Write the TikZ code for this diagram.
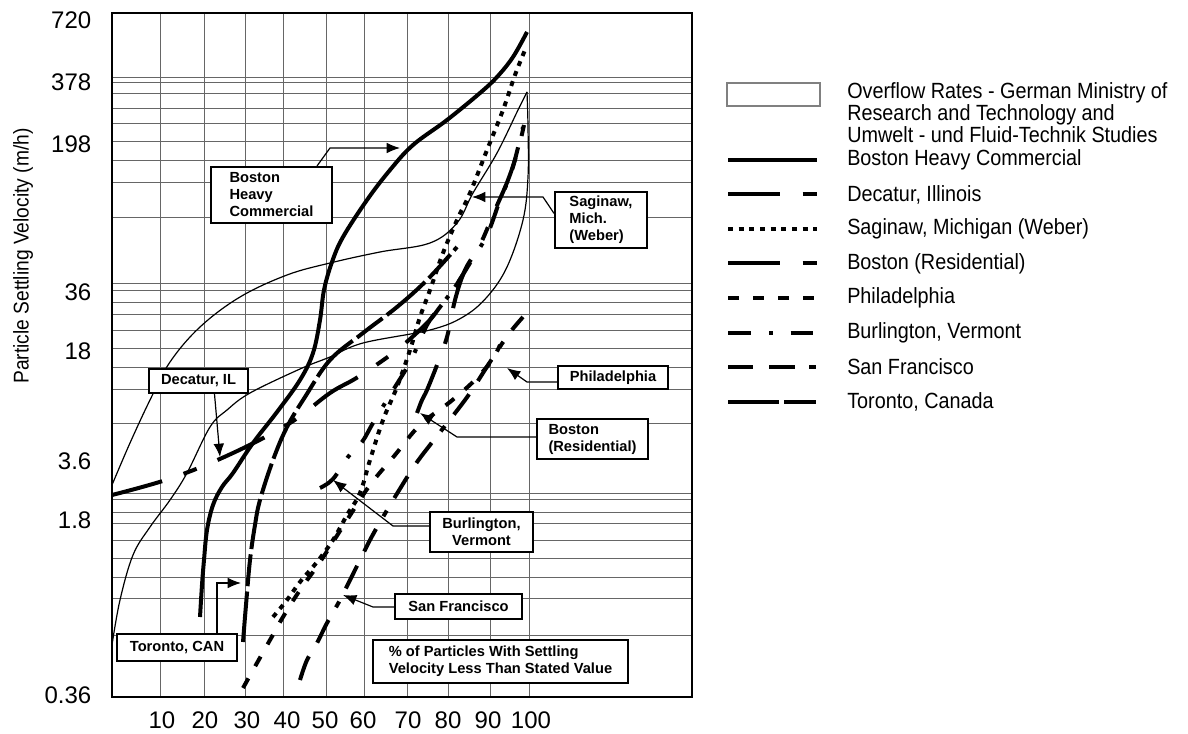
\documentclass[tikz,border=0pt]{standalone}
\usepackage{fontspec}
\setmainfont{Liberation Sans}
\newfontfamily\narrowsans[FakeStretch=0.9]{Liberation Sans}
\usetikzlibrary{arrows.meta}
\tikzset{
  envl/.style={line width=0.9pt},
  thick curve/.style={line width=3pt},
  heavy/.style={thick curve},
  decat/.style={thick curve, dash pattern=on 39pt off 17pt on 10.5pt off 17pt},
  sagin/.style={thick curve, dash pattern=on 3.75pt off 4.25pt},
  bres/.style={thick curve, dash pattern=on 39pt off 17pt on 10.5pt off 17pt},
  phila/.style={thick curve, dash pattern=on 8.25pt off 10.5pt},
  burl/.style={thick curve, dash pattern=on 17pt off 14pt on 3pt off 13pt},
  sanfr/.style={thick curve, dash pattern=on 19pt off 12pt on 19pt off 11pt on 5pt off 11pt},
  toron/.style={thick curve, dash pattern=on 38pt off 4pt on 24pt off 4pt},
  tag/.style={draw, line width=1.5pt, fill=white, inner sep=0pt,
    font=\fontsize{11}{12.75}\selectfont\bfseries},
  lead/.style={line width=0.9pt, -{Latex[length=10pt,width=8pt]}},
  legtext/.style={anchor=west, inner sep=0pt, font=\narrowsans\fontsize{16.5}{16.5}\selectfont},
}
\begin{document}
\begin{tikzpicture}[x=0.75pt,y=-0.75pt]
    \useasboundingbox (0,0) rectangle (1188,734);
    % Grid
    \foreach \gx in {160,204,245,283,326,364,407,448,490,529}
      \draw[black!60, line width=0.7pt] (\gx,13) -- (\gx,697);
    \foreach \gy in {77,82,93,108,123,141,160,182,217,283,290,302,314,330,348,367,389,423,493,499,512,523,540,558,577,598,635}
      \draw[black!60, line width=0.7pt] (112,\gy) -- (692,\gy);
    \draw[line width=2pt] (112,13) rectangle (692,697);

    % Axis numbers
    \foreach \lab/\gx in {10/162,20/205,30/247,40/287,50/325,60/363,70/408,80/448,90/488,100/531}
      \node[font=\fontsize{18}{19}\selectfont] (xt\lab) at (\gx,720) {\lab};
    \foreach \lab/\gy in {720/20,378/82,198/144,36/292,18/351,3.6/461,1.8/520,0.36/695}
      \node[anchor=east, font=\fontsize{18}{19}\selectfont] (yt\lab) at (96,\gy) {\lab};
    \node[rotate=90, font=\narrowsans\fontsize{16}{17}\selectfont] (ylabel) at (23,256) {Particle Settling Velocity (m/h)};

    % Overflow rate envelope
    \draw[envl] plot[smooth, tension=0.6] coordinates {(112,485) (130,443) (150,400) (170,362) (200,327) (240,297) (287,275) (330,263) (380,252) (430,243) (457,223) (473,193) (497,153) (518,110) (527,92)};
    \draw[envl] plot[smooth, tension=0.6] coordinates {(527,92) (528,127) (528,177) (523,220) (507,267) (487,297) (463,317) (430,330) (363,343) (330,357) (300,369) (250,393) (227,410) (210,427) (187,473) (170,500) (150,527) (133,555) (120,600) (112,645)};

    % Settling curves
    \draw[heavy] plot[smooth, tension=0.6] coordinates {(200,617) (202,585) (204,560) (207,530) (213,505) (222,487) (233,473) (253,443) (277,412) (300,380) (313,353) (320,320) (324,290) (332,262) (343,237) (367,200) (390,170) (413,145) (447,120) (480,93) (497,77) (513,57) (527,32)};
    \draw[toron] plot[smooth, tension=0.6] coordinates {(243,642) (246,605) (250,560) (255,525) (260,500) (273,460) (287,427) (305,397) (330,360) (363,333) (397,307) (427,280) (457,247)};
    \draw[decat] plot[smooth, tension=0.6] coordinates {(112,495) (172,478) (233,453) (290,423) (330,393) (358,377) (397,350) (427,323) (440,307) (455,287) (470,263)};
    \draw[sagin] plot[smooth, tension=0.6] coordinates {(273,617) (287,600) (300,582) (317,562) (333,540) (347,515) (360,493) (370,460) (383,420) (397,387) (410,350) (420,317) (430,290) (443,253) (457,220) (470,193) (487,150) (503,110) (515,75) (525,50)};
    \draw[phila] plot[smooth, tension=0.6] coordinates {(243,688) (257,663) (270,640) (283,617) (300,590) (320,562) (347,520) (370,485) (395,455) (420,425) (450,402) (475,380) (492,360) (500,345)};
    \draw[sanfr] plot[smooth, tension=0.6] coordinates {(300,680) (307,660) (317,643) (327,623) (340,600) (355,570) (370,540) (383,517) (398,492) (415,465) (430,445) (452,417) (470,393) (490,362) (508,335) (523,317)};
    \draw[burl] plot[smooth, tension=0.6] coordinates {(320,488) (333,479) (348,457) (362,442) (373,423) (390,395) (410,362) (427,325) (440,307) (455,287) (470,263) (487,235) (500,200) (512,170) (523,127)};
    \draw[bres] plot[smooth, tension=0.6] coordinates {(417,413) (422,400) (427,390) (437,365) (447,337) (455,300) (465,270) (480,245) (495,210) (508,180) (518,150) (524,125)};

    % Labels
    \node[tag, align=left, minimum width=90.75pt, minimum height=42pt] (bhcTag) at (271.5,195) {Boston\\Heavy\\Commercial};
    \node[tag, align=left, minimum width=69pt, minimum height=42pt] (sagTag) at (601,220) {Saginaw,\\Mich.\\(Weber)};
    \node[tag, minimum width=74.25pt, minimum height=18pt] (decTag) at (198.5,381) {Decatur, IL};
    \node[tag, minimum width=82.5pt, minimum height=17.25pt] (phiTag) at (613,377.5) {Philadelphia};
    \node[tag, align=left, minimum width=83.25pt, minimum height=30pt] (bresTag) at (592.5,439) {Boston\\(Residential)};
    \node[tag, align=center, minimum width=77.25pt, minimum height=30pt] (burTag) at (481.5,532) {Burlington,\\Vermont};
    \node[tag, minimum width=95.25pt, minimum height=18.75pt] (sfTag) at (458.5,606.5) {San Francisco};
    \node[tag, minimum width=90pt, minimum height=20.25pt] (torTag) at (177,647.5) {Toronto, CAN};
    \node[tag, align=left, minimum width=191.25pt, minimum height=32.25pt] (noteTag) at (500.5,661.5) {\% of Particles With Settling\\Velocity Less Than Stated Value};

    % Leaders
    \coordinate (bhcBend) at (330,148);
    \coordinate (bhcTip) at (400,148);
    \draw[lead] ([xshift=-12pt]bhcTag.north east) -- (bhcBend) -- (bhcTip);
    \coordinate (sagBend) at (543,197);
    \coordinate (sagTip) at (472,197);
    \draw[lead] ([yshift=5pt]sagTag.west) -- (sagBend) -- (sagTip);
    \coordinate (decTip) at (220,457);
    \draw[lead] ([xshift=12pt]decTag.south) -- (decTip);
    \coordinate (phiBend) at (527,382);
    \coordinate (phiTip) at (507,368);
    \draw[lead] (phiTag.west |- phiBend) -- (phiBend) -- (phiTip);
    \coordinate (bresBend) at (457,437);
    \coordinate (bresTip) at (420,413);
    \draw[lead] (bresTag.west |- bresBend) -- (bresBend) -- (bresTip);
    \coordinate (burBend) at (393,526);
    \coordinate (burTip) at (333,480);
    \draw[lead] (burTag.west |- burBend) -- (burBend) -- (burTip);
    \coordinate (sfBend) at (373,607);
    \coordinate (sfTip) at (343,595);
    \draw[lead] (sfTag.west |- sfBend) -- (sfBend) -- (sfTip);
    \coordinate (torBend) at (217,583);
    \coordinate (torTip) at (241,583);
    \draw[lead] (torTag.north -| torBend) -- (torBend) -- (torTip);

    % Legend
    \draw[black!50, line width=0.8pt] (727,83) rectangle (820,106);
    \node[legtext, align=left] (legOver) at (847,113) {Overflow Rates - German Ministry of\\Research and Technology and\\Umwelt - und Fluid-Technik Studies};
    \foreach \sty/\txt/\ly in {heavy/{Boston Heavy Commercial}/160, decat/{Decatur, Illinois}/194.5, sagin/{Saginaw, Michigan (Weber)}/229, bres/{Boston (Residential)}/263.5, phila/{Philadelphia}/298, burl/{Burlington, Vermont}/332.5, sanfr/{San Francisco}/367, toron/{Toronto, Canada}/401.5}
    {
      \draw[\sty] (728,\ly) -- (817,\ly);
      \node[legtext] (leg\sty) at (847,\ly) {\txt};
    }
\end{tikzpicture}
\end{document}
